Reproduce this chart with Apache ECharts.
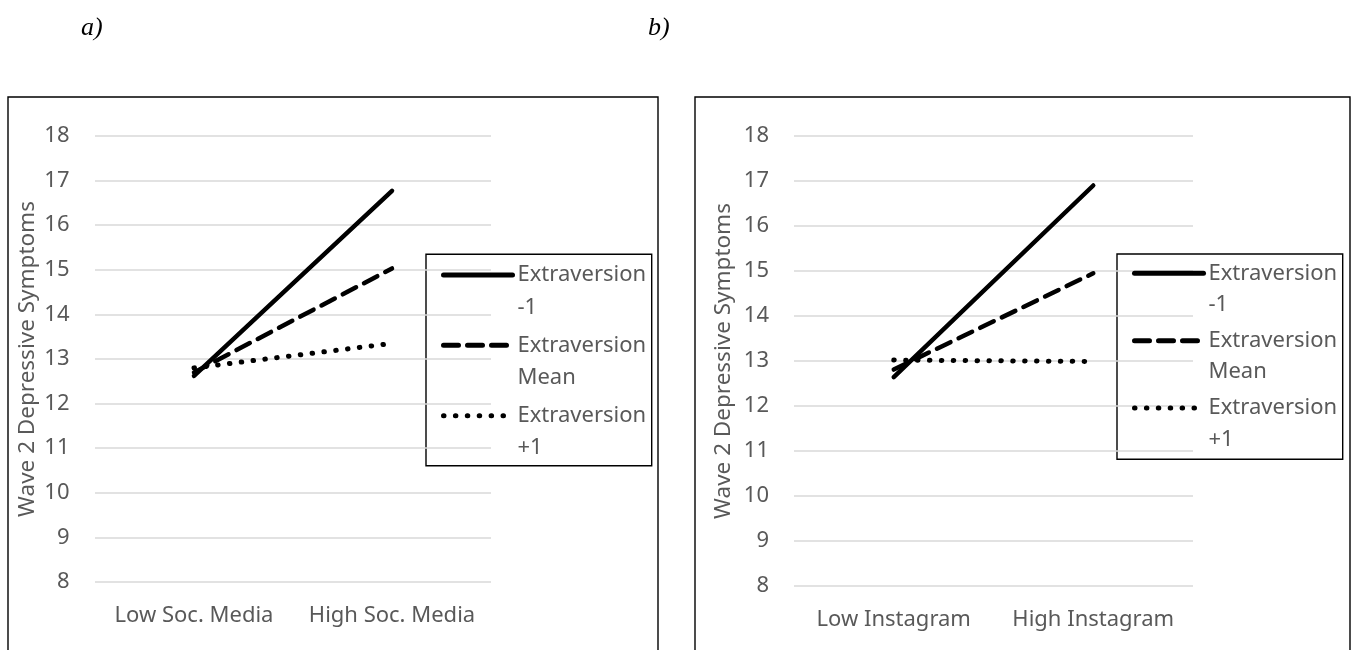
<!DOCTYPE html>
<html>
<head>
<meta charset="utf-8">
<script src="https://cdn.jsdelivr.net/npm/echarts@6/dist/echarts.min.js"></script>
<style>
  html, body { margin: 0; padding: 0; background: #fff; }
  #main { width: 1354px; height: 650px; }
</style>
</head>
<body>
<div id="main"></div>
<script>
// categories for the two panels
var catsA = ['Low Soc. Media', 'High Soc. Media'];
var catsB = ['Low Instagram', 'High Instagram'];
var yTicks = [8, 18, 1]; // min, max, step

// legend names
var names = ['Extraversion\n-1', 'Extraversion\nMean', 'Extraversion\n+1'];

// panel a) values
var aMinus1 = [12.62, 16.77];
var aMean = [12.7, 15.03];
var aPlus1 = [12.8, 13.35];

// panel b) values
var bMinus1 = [12.64, 16.9];
var bMean = [12.81, 14.95];
var bPlus1 = [13.02, 12.99];

var gray = '#595959';
var font = 'Noto Sans';

var chart = echarts.init(document.getElementById('main'));

function yAxisFor(idx, gap, margin) {
  return {
    type: 'value', gridIndex: idx,
    min: yTicks[0], max: yTicks[1], interval: yTicks[2],
    name: 'Wave 2 Depressive Symptoms',
    nameLocation: 'middle', nameGap: gap,
    nameTextStyle: { color: gray, fontSize: 22.5, fontFamily: font, lineHeight: 26 },
    axisLine: { show: false }, axisTick: { show: false },
    axisLabel: { color: gray, fontSize: 22, fontFamily: font, margin: margin },
    splitLine: { lineStyle: { color: '#d9d9d9', width: 1.5 } }
  };
}

function xAxisFor(idx, cats) {
  return {
    type: 'category', gridIndex: idx, data: cats,
    axisLine: { show: false }, axisTick: { show: false },
    axisLabel: { color: gray, fontSize: 22, fontFamily: font, margin: 21, lineHeight: 26, interval: 0 }
  };
}

var dashTypes = ['solid', [15, 9], [0.5, 11.4]];
var widths = [4.5, 4.5, 5];

function makeSeries(idx, values) {
  return values.map(function (v, i) {
    return {
      name: names[i], type: 'line', xAxisIndex: idx, yAxisIndex: idx,
      data: v, symbol: 'none', silent: true,
      lineStyle: { color: '#000', width: widths[i], type: dashTypes[i], cap: 'round' }
    };
  });
}

// a blank first line keeps the icon level with "Extraversion"
function legendFor(left, top, lh, spacing) {
  return {
    data: names, orient: 'vertical', left: left, top: top,
    padding: 0, itemWidth: 69, itemHeight: 14, itemGap: spacing - 3 * lh,
    selectedMode: false,
    formatter: function (name) { return ' \n' + name; },
    itemStyle: { opacity: 0 },
    lineStyle: { width: 5, cap: 'round' },
    textStyle: { color: gray, fontSize: 22, fontFamily: font, lineHeight: lh }
  };
}

var labelStyle = { fontFamily: 'Liberation Serif', fontStyle: 'italic', fontWeight: 'normal', fontSize: 26, color: '#000' };

var option = {
  animation: false,
  title: [
    { text: 'a)', left: 76, top: 10, textStyle: labelStyle },
    { text: 'b)', left: 643, top: 10, textStyle: labelStyle }
  ],
  grid: [
    { left: 95, top: 136, width: 396, height: 446 },
    { left: 794, top: 136, width: 399, height: 450 }
  ],
  xAxis: [xAxisFor(0, catsA), xAxisFor(1, catsB)],
  yAxis: [yAxisFor(0, 50.5, 25.5), yAxisFor(1, 57.5, 25)],
  legend: [
    legendFor(441, 226.3, 32.5, 70.3),
    legendFor(1132, 226, 31.5, 67.4)
  ],
  graphic: [
    { type: 'rect', shape: { x: 8, y: 97, width: 650, height: 620 }, style: { fill: 'none', stroke: '#000', lineWidth: 1.4 }, silent: true },
    { type: 'rect', shape: { x: 695, y: 97, width: 655, height: 620 }, style: { fill: 'none', stroke: '#000', lineWidth: 1.4 }, silent: true },
    { type: 'rect', shape: { x: 426, y: 254.3, width: 225.7, height: 211.4 }, style: { fill: 'none', stroke: '#000', lineWidth: 1.4 }, silent: true },
    { type: 'rect', shape: { x: 1117, y: 254, width: 225.7, height: 205.3 }, style: { fill: 'none', stroke: '#000', lineWidth: 1.4 }, silent: true }
  ],
  series: makeSeries(0, [aMinus1, aMean, aPlus1]).concat(makeSeries(1, [bMinus1, bMean, bPlus1]))
};

chart.setOption(option);
</script>
</body>
</html>
